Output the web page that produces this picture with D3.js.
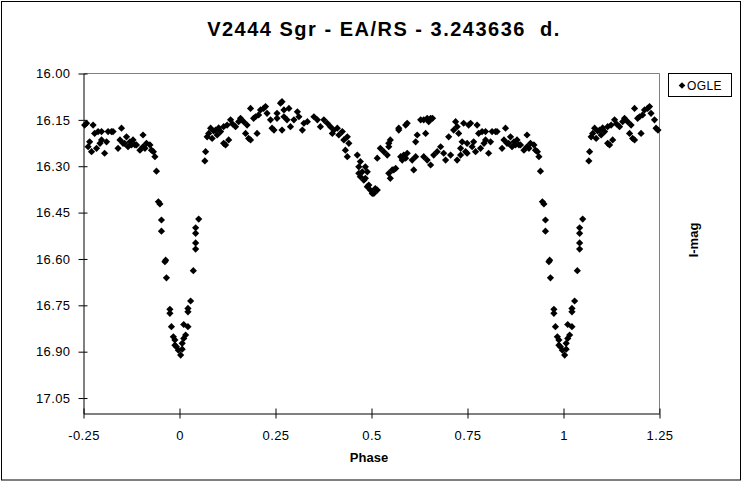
<!DOCTYPE html>
<html>
<head>
<meta charset="utf-8">
<script src="https://cdn.jsdelivr.net/npm/d3@7"></script>
<style>
  html, body { margin: 0; padding: 0; background: #fff; }
  svg { display: block; font-family: Arial, "Liberation Sans", sans-serif; }
</style>
</head>
<body>
<svg id="chart" width="746" height="482"></svg>
<script>
// ---- data (phase 0..1, I magnitude) ----
const phase = [
0.003,0.007,0.011,0.011,0.022,0.022,0.022,0.029,0.036,0.042,0.042,0.042,0.042,0.050,0.007,0.016,0.066,0.068,
0.076,0.081,0.072,0.085,0.094,0.098,0.107,0.115,0.120,0.128,0.115,0.124,0.133,0.146,0.154,0.159,0.167,0.176,0.172,0.180,0.185,0.185,0.193,0.198,0.202,0.211,0.224,0.228,0.241,0.246,0.254,0.263,0.089,0.102,0.138,0.206,0.219,0.237,0.254,0.272,0.280,0.289,0.285,0.298,0.267,0.272,0.267,
0.307,0.311,0.320,0.324,0.333,0.350,0.359,0.367,0.376,0.385,0.393,0.398,0.402,0.411,0.415,0.424,0.428,0.437,0.441,0.432,0.437,0.463,0.471,0.467,0.476,0.484,0.471,0.480,0.489,0.497,0.506,0.510,0.515,0.523,0.532,0.541,0.545,0.549,0.554,0.563,0.545,0.549,0.571,0.589,0.610,0.615,0.615,0.619,0.628,0.636,0.641,0.645,0.649,0.654,0.645,0.636,0.654,0.589,0.584,0.593,0.606,0.662,0.671,
0.502,0.515,0.493,0.467,0.576,0.558,0.580,0.571,0.593,0.545,0.484,0.489,
0.680,0.688,0.693,0.701,0.706,0.714,0.719,0.723,0.727,0.723,0.732,0.736,0.740,0.745,0.749,0.753,0.758,0.762,0.766,0.771,0.775,0.779,0.784,0.788,0.793,0.797,0.805,0.810,0.814,0.827,0.840,0.845,0.849,0.853,0.862,0.866,0.871,0.879,0.888,0.897,0.905,0.905,0.914,0.923,0.927,0.932,
0.749,0.732,0.797,0.857,0.875,0.884,0.910,0.823,0.659,
0.936,0.940,0.945,0.949,0.953,0.953,0.964,0.962,0.966,0.975,0.975,0.979,0.984,0.988,0.988,0.992,0.997
];
const imag = [
16.911,16.873,16.857,16.812,16.819,16.760,16.771,16.736,16.638,16.568,16.548,16.517,16.499,16.471,16.892,16.846,16.283,16.253,
16.194,16.177,16.205,16.210,16.183,16.199,16.188,16.226,16.231,16.215,16.172,16.167,16.150,16.172,16.156,16.145,16.156,16.167,16.194,16.210,16.215,16.113,16.145,16.140,16.194,16.118,16.107,16.129,16.177,16.183,16.145,16.096,16.186,16.176,16.163,16.134,16.113,16.150,16.129,16.118,16.150,16.172,16.113,16.150,16.091,16.140,16.183,
16.124,16.140,16.183,16.161,16.156,16.140,16.150,16.172,16.150,16.161,16.172,16.194,16.183,16.177,16.199,16.188,16.215,16.205,16.226,16.248,16.269,16.264,16.285,16.302,16.318,16.302,16.334,16.345,16.366,16.377,16.388,16.372,16.274,16.242,16.253,16.264,16.323,16.339,16.312,16.307,16.237,16.215,16.183,16.167,16.312,16.269,16.221,16.199,16.150,16.150,16.194,16.145,16.156,16.145,16.280,16.269,16.296,16.274,16.264,16.258,16.280,16.264,16.253,
16.388,16.377,16.361,16.323,16.269,16.312,16.280,16.177,16.161,16.226,16.339,16.318,
16.237,16.258,16.280,16.205,16.264,16.183,16.156,16.172,16.194,16.280,16.242,16.221,16.161,16.253,16.226,16.167,16.161,16.237,16.221,16.253,16.167,16.194,16.242,16.188,16.226,16.188,16.258,16.221,16.188,16.188,16.242,16.215,16.177,16.226,16.205,16.237,16.221,16.215,16.231,16.248,16.199,16.237,16.226,16.231,16.248,16.253,
16.258,16.264,16.215,16.226,16.231,16.231,16.242,16.188,16.145,
16.269,16.316,16.415,16.422,16.474,16.510,16.604,16.609,16.661,16.763,16.776,16.819,16.852,16.862,16.879,16.884,16.895
];
const xTicks = [-0.25, 0, 0.25, 0.5, 0.75, 1, 1.25];
const xTickLabels = ["-0.25", "0", "0.25", "0.5", "0.75", "1", "1.25"];
const yTicks = [16.00, 16.15, 16.30, 16.45, 16.60, 16.75, 16.90, 17.05];
const yTickLabels = ["16.00", "16.15", "16.30", "16.45", "16.60", "16.75", "16.90", "17.05"];
const seriesName = "OGLE";
const title = "V2444 Sgr - EA/RS - 3.243636\u00a0 d.";
const xTitle = "Phase";
const yTitle = "I-mag";

// ---- build plotted points (phase-folded, shown from -0.25 to 1.25) ----
const points = [];
phase.forEach((p, i) => {
  [p - 1, p, p + 1].forEach(q => {
    if (q >= -0.25 && q <= 1.25) points.push({ p: q, m: imag[i] });
  });
});

const svg = d3.select("#chart");
const L = 83.5, T = 73.5, R = 659.5, B = 413.5;
const x = d3.scaleLinear().domain([-0.25, 1.25]).range([L, R]);
const y = d3.scaleLinear().domain([16.0, 17.1]).range([T, B]);

// outer frame
svg.append("rect").attr("x", 1.5).attr("y", 1.5).attr("width", 739).attr("height", 478.5)
  .attr("fill", "#fff").attr("stroke", "#000").attr("stroke-width", 1);

// plot frame top/right (grey)
svg.append("path").attr("d", `M${L},${T}H${R}V${B}`).attr("fill", "none")
  .attr("stroke", "#808080").attr("stroke-width", 1);

// axes
const yAxis = d3.axisLeft(y).tickValues(yTicks)
  .tickFormat((d, i) => yTickLabels[i]).tickSizeInner(5).tickSizeOuter(0).tickPadding(8);
const gy = svg.append("g").attr("transform", `translate(${L},0)`).call(yAxis);
gy.selectAll(".tick").append("line").attr("x1", 0).attr("x2", 4).attr("stroke", "#000");

const xAxis = d3.axisBottom(x).tickValues(xTicks)
  .tickFormat((d, i) => xTickLabels[i]).tickSizeInner(5).tickSizeOuter(0).tickPadding(12);
const gx = svg.append("g").attr("transform", `translate(0,${B})`).call(xAxis);
gx.selectAll(".tick").append("line").attr("y1", 0).attr("y2", -5).attr("stroke", "#000");

[gx, gy].forEach(g => {
  g.select(".domain").attr("stroke", "#000");
  g.selectAll(".tick line").attr("stroke", "#000");
  g.selectAll(".tick text").attr("fill", "#000").style("font-size", "13px")
    .style("letter-spacing", "0.4px")
    .style("font-family", "Arial, 'Liberation Sans', sans-serif");
});

// points
const r = 3.6;
const diamond = `M0,${-r}L${r},0L0,${r}L${-r},0Z`;
svg.append("g").selectAll("path").data(points).join("path")
  .attr("d", diamond)
  .attr("transform", d => `translate(${x(d.p)},${y(d.m)})`)
  .attr("fill", "#000");

// titles
svg.append("text").attr("x", 384).attr("y", 36).attr("text-anchor", "middle")
  .style("font-size", "20px").style("font-weight", "bold").style("letter-spacing", "1.5px").text(title);
svg.append("text").attr("x", 369).attr("y", 462).attr("text-anchor", "middle")
  .style("font-size", "13px").style("font-weight", "bold").text(xTitle);
svg.append("text").attr("transform", "translate(698,240) rotate(-90)").attr("text-anchor", "middle")
  .style("font-size", "13px").style("font-weight", "bold").text(yTitle);

// legend
const lg = svg.append("g");
lg.append("rect").attr("x", 668.5).attr("y", 73.5).attr("width", 63).attr("height", 23)
  .attr("fill", "#fff").attr("stroke", "#000");
lg.append("path").attr("d", `M0,-3.3L3.3,0L0,3.3L-3.3,0Z`).attr("transform", "translate(682,85.5)").attr("fill", "#000");
lg.append("text").attr("x", 687).attr("y", 90).style("font-size", "12px").style("letter-spacing", "0.4px")
  .attr("fill", "#000").text(seriesName);
</script>
</body>
</html>
